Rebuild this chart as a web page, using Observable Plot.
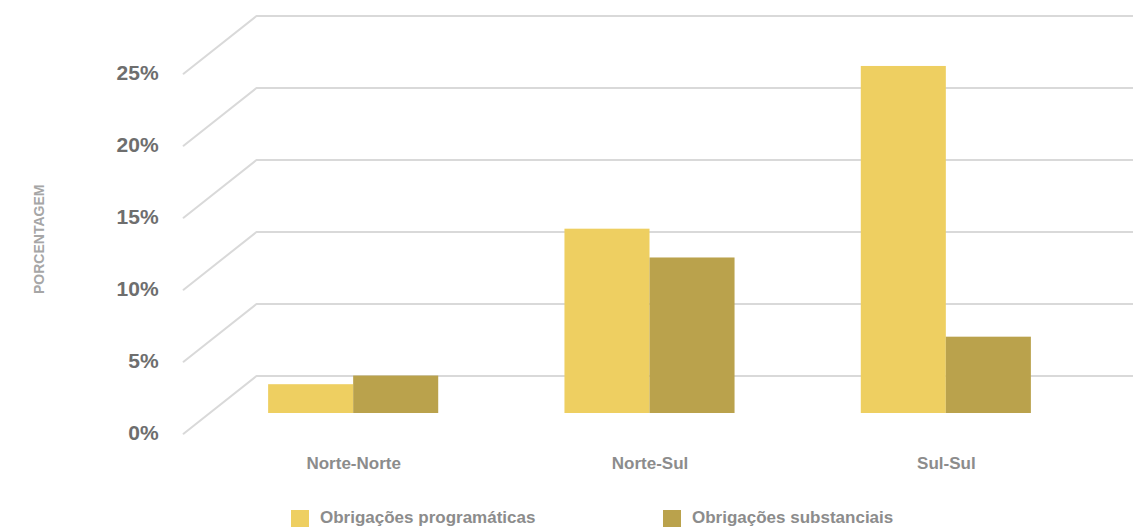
<!DOCTYPE html>
<html>
<head>
<meta charset="utf-8">
<script src="https://cdn.jsdelivr.net/npm/d3@7"></script>
<script src="https://cdn.jsdelivr.net/npm/@observablehq/plot@0.6"></script>
<style>
  html, body { margin: 0; padding: 0; background: #fff; }
  body { width: 1133px; height: 531px; overflow: hidden; font-family: "Liberation Sans", Arial, sans-serif; }
  #legend { position: relative; height: 36px; width: 1133px; }
  .item { position: absolute; top: 5px; display: flex; align-items: center; height: 36px; }
  .sw { width: 18px; height: 17px; margin-right: 11px; }
  .lab { font-size: 17px; color: #8c8c8c; font-weight: bold; }
</style>
</head>
<body>
<div id="chart"></div>
<div id="legend"></div>
<script>
const categories = ["Norte-Norte", "Norte-Sul", "Sul-Sul"];
const series = ["Obrigações programáticas", "Obrigações substanciais"];
const programaticas = [2.0, 12.8, 24.1];
const substanciais = [2.6, 10.8, 5.3];
const yTicks = [0, 5, 10, 15, 20, 25];
const yTitle = "PORCENTAGEM";
const colors = ["#eecf61", "#baa24c"];

// 3D "perspective" offsets (in value units / category units)
const dFront = -1.4, dBack = 2.6;
const xFront = -0.074, xBack = 0.172, xEnd = 3.14;
const barW = 0.287;

const bars = [];
categories.forEach((c, i) => {
  bars.push({cat: c, s: series[0], x1: i + 0.5 - barW, x2: i + 0.5, v: programaticas[i]});
  bars.push({cat: c, s: series[1], x1: i + 0.5, x2: i + 0.5 + barW, v: substanciais[i]});
});

const grid = [];
yTicks.forEach(t => {
  grid.push({t, x: xFront, y: t + dFront});
  grid.push({t, x: xBack, y: t + dBack});
  grid.push({t, x: xEnd, y: t + dBack});
});

const font = '"Liberation Sans", Arial, sans-serif';

const chart = Plot.plot({
  width: 1133,
  height: 495,
  margin: 0,
  style: {fontFamily: font, background: "#fff"},
  x: {type: "linear", domain: [0, 3], range: [205, 1094], axis: null},
  y: {domain: [0, 25], range: [413, 53], axis: null},
  color: {domain: series, range: colors},
  marks: [
    Plot.line(grid, {x: "x", y: "y", z: "t", stroke: "#d9d9d9", strokeWidth: 2}),
    Plot.rect(bars, {x1: "x1", x2: "x2", y1: 0, y2: "v", fill: "s"}),
    Plot.text(yTicks, {x: xFront, y: d => d + dFront, text: d => d + "%", textAnchor: "end", dx: -25,
      fontSize: 21, fontWeight: "bold", fill: "#6e6e6e", fontFamily: font}),
    Plot.text(categories, {x: (d, i) => i + 0.5, y: dFront, text: d => d, dy: 30,
      fontSize: 17, fontWeight: "bold", fill: "#8c8c8c", fontFamily: font}),
    Plot.text([yTitle], {x: -0.56, y: 12.1, text: d => d, rotate: -90,
      fontSize: 14, fontWeight: "bold", fill: "#a6a6a6", fontFamily: font})
  ]
});
document.getElementById("chart").appendChild(chart);

const legend = document.getElementById("legend");
const lx = [291, 663];
series.forEach((s, i) => {
  const it = document.createElement("div");
  it.className = "item";
  it.style.left = lx[i] + "px";
  it.innerHTML = `<div class="sw" style="background:${colors[i]}"></div><span class="lab">${s}</span>`;
  legend.appendChild(it);
});
</script>
</body>
</html>
